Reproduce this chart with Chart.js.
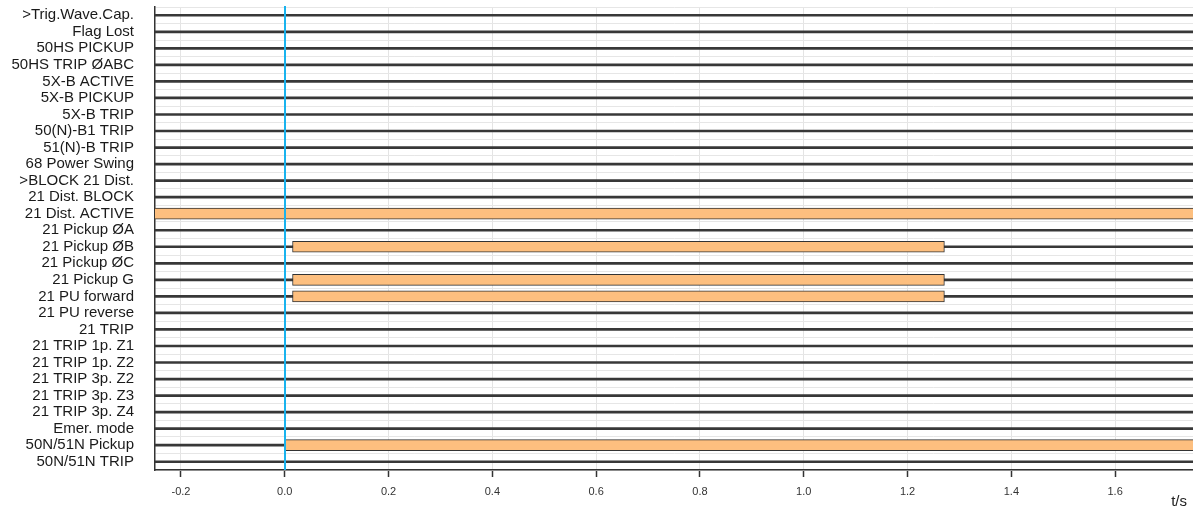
<!DOCTYPE html>
<html>
<head>
<meta charset="utf-8">
<script src="https://cdn.jsdelivr.net/npm/chart.js@4.4.0/dist/chart.umd.min.js"></script>
<style>
  html, body { margin: 0; padding: 0; background: #ffffff; }
  #wrap { width: 1193px; height: 512px; position: relative; }
</style>
</head>
<body>
<div id="wrap"><canvas id="c"></canvas></div>
<script>
// ---- data ----
const signals = [
  '>Trig.Wave.Cap.', 'Flag Lost', '50HS PICKUP', '50HS TRIP ØABC', '5X-B ACTIVE',
  '5X-B PICKUP', '5X-B TRIP', '50(N)-B1 TRIP', '51(N)-B TRIP', '68 Power Swing',
  '>BLOCK 21 Dist.', '21 Dist. BLOCK', '21 Dist. ACTIVE', '21 Pickup ØA', '21 Pickup ØB',
  '21 Pickup ØC', '21 Pickup G', '21 PU forward', '21 PU reverse', '21 TRIP',
  '21 TRIP 1p. Z1', '21 TRIP 1p. Z2', '21 TRIP 3p. Z2', '21 TRIP 3p. Z3', '21 TRIP 3p. Z4',
  'Emer. mode', '50N/51N Pickup', '50N/51N TRIP'
];
const activeSignals = ['21 Dist. ACTIVE', '21 Pickup ØB', '21 Pickup G', '21 PU forward', '50N/51N Pickup'];
const activeFrom   = [-0.30, 0.015, 0.015, 0.015, 0.000];
const activeTo     = [ 1.80, 1.271, 1.271, 1.271, 1.800];
const timeMin = -0.25;
const timeMax = 1.75;
const triggerTime = 0.0;
const xTickValues = [-0.2, 0.0, 0.2, 0.4, 0.6, 0.8, 1.0, 1.2, 1.4, 1.6];
const xTickLabels = ['-0.2', '0.0', '0.2', '0.4', '0.6', '0.8', '1.0', '1.2', '1.4', '1.6'];
const xAxisTitle = 't/s';

// ---- derived datasets ----
const baselineData = signals.map(() => [timeMin, timeMax]);
const activeData = signals.map(s => {
  const i = activeSignals.indexOf(s);
  return i >= 0 ? [activeFrom[i], activeTo[i]] : null;
});

const FONT = "'Liberation Sans', Arial, sans-serif";

const triggerLine = {
  id: 'triggerLine',
  afterDatasetsDraw(chart) {
    const {ctx, chartArea, scales} = chart;
    const x = Math.round(scales.x.getPixelForValue(triggerTime));
    ctx.save();
    ctx.strokeStyle = '#19B3EE';
    ctx.lineWidth = 2;
    ctx.beginPath();
    ctx.moveTo(x, chartArea.top - 1);
    ctx.lineTo(x, chartArea.bottom);
    ctx.stroke();
    ctx.restore();
  }
};

const axisTitle = {
  id: 'axisTitle',
  afterDraw(chart) {
    const {ctx} = chart;
    ctx.save();
    ctx.fillStyle = '#222';
    ctx.font = '15px ' + FONT;
    ctx.textAlign = 'right';
    ctx.textBaseline = 'middle';
    ctx.fillText(xAxisTitle, chart.width - 6, 502);
    ctx.restore();
  }
};

new Chart(document.getElementById('c'), {
  type: 'bar',
  data: {
    labels: signals,
    datasets: [
      {
        label: 'active',
        data: activeData,
        backgroundColor: '#FDBF7F',
        borderColor: '#333333',
        borderWidth: 1,
        borderSkipped: false,
        barThickness: 11,
        grouped: false,
        order: 1
      },
      {
        label: 'signal',
        data: baselineData,
        backgroundColor: '#383838',
        borderWidth: 0,
        barThickness: 2,
        grouped: false,
        order: 2
      }
    ]
  },
  options: {
    indexAxis: 'y',
    responsive: true,
    maintainAspectRatio: false,
    animation: false,
    layout: { padding: { top: 7, right: 0, bottom: 0, left: 0 } },
    plugins: {
      legend: { display: false },
      tooltip: { enabled: false }
    },
    scales: {
      x: {
        type: 'linear',
        position: 'bottom',
        min: timeMin,
        max: timeMax,
        afterBuildTicks: s => { s.ticks = xTickValues.map(v => ({ value: v })); },
        afterFit: s => { s.height = 42; },
        ticks: {
          autoSkip: false,
          maxRotation: 0,
          padding: 8,
          color: '#333',
          font: { family: FONT, size: 11 },
          callback: (v) => {
            const i = xTickValues.findIndex(t => Math.abs(t - v) < 1e-9);
            return i >= 0 ? xTickLabels[i] : '';
          }
        },
        grid: {
          color: '#e4e4e4',
          lineWidth: 1,
          tickColor: '#333',
          tickLength: 7,
          tickWidth: 1.5
        },
        border: { color: '#333', width: 1.5 }
      },
      y: {
        type: 'category',
        position: 'left',
        offset: true,
        afterFit: s => { s.width = 155; },
        ticks: {
          autoSkip: false,
          padding: 0,
          color: '#1a1a1a',
          font: { family: FONT, size: 15, lineHeight: 0.9 }
        },
        grid: {
          offset: true,
          color: '#e6e6e6',
          lineWidth: 1,
          drawTicks: true,
          tickLength: 21,
          tickColor: 'rgba(0,0,0,0)'
        },
        border: { color: '#333', width: 1.5 }
      }
    }
  },
  plugins: [triggerLine, axisTitle]
});
</script>
</body>
</html>
